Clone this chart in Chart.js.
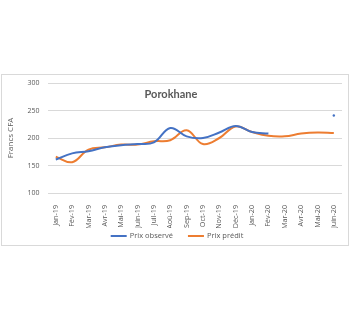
<!DOCTYPE html>
<html>
<head>
<meta charset="utf-8">
<script src="https://cdn.jsdelivr.net/npm/chart.js@4/dist/chart.umd.min.js"></script>
<style>
    html, body { margin: 0; padding: 0; background: #fff; }
    #box {
        position: absolute;
        left: 1px; top: 74px;
        width: 346px; height: 170px;
        border: 1px solid #d9d9d9;
    }
</style>
</head>
<body>
<div id="box"><canvas id="chart"></canvas></div>
<script>
    "use strict";

    const months = ['Jan-19', 'Fév-19', 'Mar-19', 'Avr-19', 'Mai-19', 'Juin-19', 'Juil-19', 'Aoû-19', 'Sep-19',
        'Oct-19', 'Nov-19', 'Déc-19', 'Jan-20', 'Fév-20', 'Mar-20', 'Avr-20', 'Mai-20', 'Juin-20'];
    const prixObserve = [161, 172, 176, 183, 187, 189, 192, 218, 203, 200, 210, 222, 211, 208, null, null, null, 241];
    const prixPredit = [166, 156, 179, 183, 188, 188, 194, 196, 214, 189, 200, 221, 211, 204, 203, 208, 210, 209];
    const yTicks = [100, 150, 200, 250, 300];

    let grey = '#595959';
    let font = '"Open Sans", Lato, sans-serif';

    // title sits inside the plot area, like the Excel overlay
    const titlePlugin = {
        id: 'overlayTitle',
        afterDraw(chart) {
            let ctx = chart.ctx;
            ctx.save();
            ctx.font = 'bold 11px Lato, sans-serif';
            ctx.fillStyle = grey;
            ctx.textAlign = 'center';
            ctx.textBaseline = 'middle';
            ctx.fillText('Porokhane', 169, chart.chartArea.top + 11);
            ctx.restore();
        }
    };

    // Excel style legend: short line + label, wider gap between entries
    const legendPlugin = {
        id: 'lineLegend',
        afterDraw(chart) {
            let ctx = chart.ctx;
            let sets = chart.data.datasets;
            ctx.save();
            ctx.font = '7.5px ' + font;
            ctx.textBaseline = 'middle';
            let widths = sets.map(ds => 19 + ctx.measureText(ds.label).width);
            let total = widths.reduce((a, b) => a + b, 0) + 15 * (sets.length - 1);
            let x = 175 - total / 2;
            let y = chart.height - 9;
            sets.forEach((ds, i) => {
                ctx.fillStyle = ds.borderColor;
                ctx.fillRect(x, y - 1, 16, 2);
                ctx.fillStyle = grey;
                ctx.fillText(ds.label, x + 19, y);
                x += widths[i] + 15;
            });
            ctx.restore();
        }
    };

    new Chart(document.getElementById('chart'), {
        type: 'line',
        data: {
            labels: months,
            datasets: [{
                label: 'Prix observé',
                data: prixObserve,
                borderColor: '#4472C4',
                backgroundColor: '#4472C4',
                borderWidth: 2,
                tension: 0.4,
                pointRadius: prixObserve.map((v, i) => i === prixObserve.length - 1 ? 1.2 : 0),
                pointBorderWidth: 0,
            }, {
                label: 'Prix prédit',
                data: prixPredit,
                borderColor: '#ED7D31',
                backgroundColor: '#ED7D31',
                borderWidth: 2,
                tension: 0.4,
                pointRadius: 0,
            }]
        },
        options: {
            responsive: true,
            maintainAspectRatio: false,
            animation: false,
            layout: {
                padding: {left: 4, right: 6, top: 8, bottom: 17},
            },
            plugins: {
                legend: {display: false},
                tooltip: {enabled: false},
            },
            scales: {
                x: {
                    offset: true,
                    grid: {display: false},
                    border: {display: false},
                    afterFit: (axis) => {
                        axis.height = 35;
                    },
                    ticks: {
                        minRotation: 90,
                        maxRotation: 90,
                        autoSkip: false,
                        color: grey,
                        padding: 4,
                        font: {family: font, size: 7.2},
                    },
                },
                y: {
                    min: 100,
                    max: 300,
                    afterBuildTicks: (axis) => {
                        axis.ticks = yTicks.map(v => ({value: v}));
                    },
                    afterFit: (axis) => {
                        axis.paddingTop = 0;
                        axis.paddingBottom = 0;
                    },
                    grid: {color: '#d9d9d9', drawTicks: false},
                    border: {display: false},
                    title: {
                        display: true,
                        text: 'Francs CFA',
                        color: grey,
                        padding: {top: 0, bottom: 4},
                        font: {family: font, size: 8},
                    },
                    ticks: {
                        color: grey,
                        padding: 8,
                        font: {family: font, size: 7},
                    },
                },
            },
        },
        plugins: [titlePlugin, legendPlugin],
    });
</script>
</body>
</html>
